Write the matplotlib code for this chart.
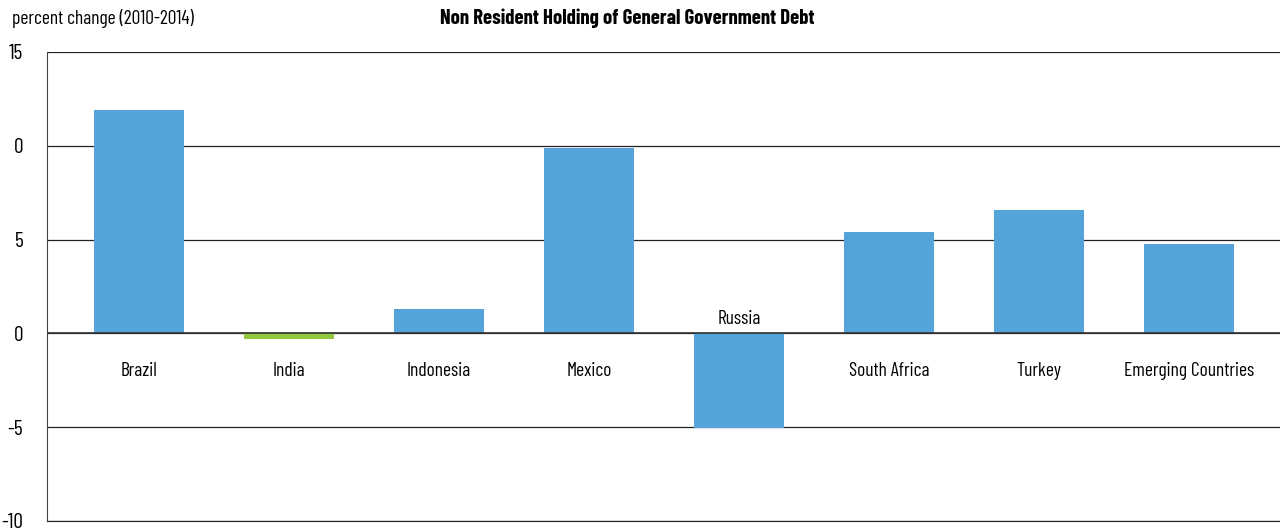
import matplotlib.pyplot as plt

countries = ['Brazil', 'India', 'Indonesia', 'Mexico', 'Russia',
             'South Africa', 'Turkey', 'Emerging Countries']
change = [11.9, -0.3, 1.3, 9.9, -5.05, 5.4, 6.6, 4.75]
colors = ['#54a3db', '#92c83e', '#54a3db', '#54a3db', '#54a3db',
          '#54a3db', '#54a3db', '#54a3db']
yticks = [-10, -5, 0, 5, 10, 15]
yticklabels = ['-10', '-5', '0', '5', '0', '15']

plt.rcParams['font.family'] = ['Barlow Condensed', 'DejaVu Sans']

fig = plt.figure(figsize=(12.8, 5.3), dpi=100)
ax = fig.add_axes([0.0367, 0.017, 0.9633, 0.885])

x = range(len(countries))
ax.bar(x, change, width=0.6, color=colors, zorder=2)

ax.set_ylim(-10, 15)
ax.set_xlim(-0.613, 7.607)
ax.set_yticks(yticks)
ax.set_yticklabels(yticklabels, fontsize=15.5)
ax.set_xticks([])
ax.tick_params(axis='y', length=0, pad=17)
ax.yaxis.grid(True, color='#222222', linewidth=0.9, zorder=1)
ax.axhline(0, color='#333333', linewidth=1.2, zorder=3)

for s in ['top', 'right']:
    ax.spines[s].set_visible(False)
ax.spines['left'].set_color('#444444')
ax.spines['bottom'].set_color('#222222')

for i, (c, v) in enumerate(zip(countries, change)):
    if c == 'Russia':
        ax.text(i, 0.3, c, ha='center', va='bottom', fontsize=14)
    else:
        ax.text(i, -2.0, c, ha='center', va='center', fontsize=14)

fig.text(0.009, 0.965, 'percent change (2010-2014)', fontsize=14, va='center')
fig.text(0.49, 0.965, 'Non Resident Holding of General Government Debt',
         fontsize=15, fontweight='bold', ha='center', va='center')

fig.savefig('out.png', dpi=100)
